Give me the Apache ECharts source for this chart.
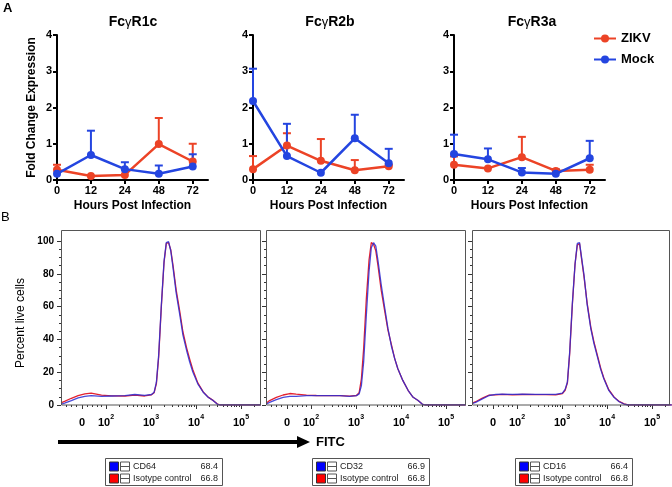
<!DOCTYPE html>
<html><head><meta charset="utf-8">
<script src="https://cdn.jsdelivr.net/npm/echarts@6/dist/echarts.min.js"></script>
<style>html,body{margin:0;padding:0;background:#fff}#c{width:672px;height:487px}</style>
</head><body><div id="c"></div>
<script>
// ---------- Panel A data ----------
const hours = ['0', '12', '24', '48', '72'];
const receptorTitles = ['Fc{g|γ}R1c', 'Fc{g|γ}R2b', 'Fc{g|γ}R3a'];
const zikvR1c      = [0.28, 0.11, 0.14, 0.99, 0.51];
const zikvR1cUpper = [0.42, 0.11, 0.14, 1.71, 1.00];
const mockR1c      = [0.17, 0.69, 0.30, 0.17, 0.37];
const mockR1cUpper = [0.17, 1.36, 0.49, 0.40, 0.71];
const zikvR2b      = [0.30, 0.95, 0.53, 0.27, 0.38];
const zikvR2bUpper = [0.66, 1.29, 1.13, 0.55, 0.42];
const mockR2b      = [2.18, 0.66, 0.20, 1.15, 0.46];
const mockR2bUpper = [3.07, 1.55, 0.20, 1.80, 0.86];
const zikvR3a      = [0.42, 0.32, 0.63, 0.25, 0.28];
const zikvR3aUpper = [0.65, 0.32, 1.19, 0.30, 0.42];
const mockR3a      = [0.72, 0.57, 0.21, 0.17, 0.60];
const mockR3aUpper = [1.25, 0.87, 0.33, 0.28, 1.08];

// ---------- Panel B data (FITC, display units: 3 = 10^3, 4 = 10^4 ...) ----------
const fcsT = [1.01,1.08,1.23,1.38,1.53,1.67,1.90,2.12,2.42,2.64,2.86,3.01,3.07,3.12,3.17,3.23,3.29,3.34,3.39,3.44,3.49,3.56,3.64,3.71,3.79,3.86,3.93,4.04,4.16,4.27,4.38,4.47,4.53,5.44];
const cd64    = [0.6,1.2,2.7,4.3,5.3,5.7,5.3,5.5,5.7,6.4,5.9,6.4,7.8,13.9,30.3,61,87.7,99,99.6,93.9,83.6,68.2,54.9,42.6,33.4,26.2,20.1,12.9,7.8,4.7,2.7,0.6,0,0];
const iso64   = [1.5,2.2,4.1,5.7,6.8,7.2,6.0,5.6,5.5,6.0,5.5,6.2,7.5,13,29,60,87,98.5,99,94.5,85,70,57,44.5,35,28,21.5,13.5,8,4.8,2.8,0.7,0,0];
const cd32    = [0.6,1.6,3.3,4.7,5.3,5.3,5.7,5.7,5.7,5.7,5.3,5.7,6.8,11.9,26.2,54.9,81.6,95.9,99,96.9,87.7,73.4,59,46.7,35.5,28.3,22.1,15,8.8,4.7,2.7,0.6,0,0];
const iso32   = [1.2,2.7,4.7,6.1,7.0,6.6,6.0,5.8,5.7,5.7,5.4,5.8,7.5,16,34.4,65,88.5,99,98,94,84.6,70,57,45.7,36.5,28.3,22.1,15,8.8,4.7,2.7,0.6,0,0];
const cd16    = [1,1.6,3.7,5.8,6.5,6.6,6.5,6.6,6.5,6.5,6.5,7.2,9.5,14,32,62,86,98.5,99,89,79,61,46.6,37.5,29,21.7,16,8.9,4.5,2,0.6,0,0,0];
const iso16   = [1.2,2,4.2,6,6.2,6.5,6.2,6.4,6.3,6.3,6.2,7,9,13.5,31,61,86,97.5,98.5,88,78,62,47.5,38.5,30,22.5,16.5,9.3,4.8,2.2,0.7,0,0,0];
const fcsTickPos = [1.467, 2, 3, 4, 5];
const fcsTickExp = [null, 2, 3, 4, 5];
const markerNames  = ['CD64', 'CD32', 'CD16'];
const markerValues = ['68.4', '66.9', '66.4'];
const isotypeName  = 'Isotype control';
const isotypeValues = ['66.8', '66.8', '66.8'];

// ---------- layout / style ----------
const RED = '#ec4326', BLUE = '#2445e0';
const HRED = '#e3222f', HBLUE = '#2a2ad2';
const FONT = '"Liberation Sans", Arial, sans-serif';
const aLeft = [57, 253, 454], aTop = 35, aW = 151, aH = 145;
const bLeft = [61, 266, 472], bW = [200, 200, 198], bTop = 241, bH = 164, boxTop = 230;
const bMax = bW.map(w => 1 + w / 45);

const zikv = [zikvR1c, zikvR2b, zikvR3a], zikvU = [zikvR1cUpper, zikvR2bUpper, zikvR3aUpper];
const mock = [mockR1c, mockR2b, mockR3a], mockU = [mockR1cUpper, mockR2bUpper, mockR3aUpper];
const marker = [cd64, cd32, cd16], iso = [iso64, iso32, iso16];

const minorPos = [];
[1.12,1.23,1.34,1.58,1.69,1.80,1.90].forEach(v => minorPos.push(v));
for (let n = 2; n <= 5; n++) for (let k = 2; k <= 9; k++) { const v = n + Math.log10(k); if (v < 5.4) minorPos.push(v); }

function errRender(color) {
  return function (params, api) {
    const x = api.value(0), m = api.value(1), u = api.value(2);
    if (u <= m + 0.005) return null;
    const p1 = api.coord([x, m]), p2 = api.coord([x, u]);
    return { type: 'group', children: [
      { type: 'line', shape: { x1: p1[0], y1: p1[1], x2: p2[0], y2: p2[1] }, style: { stroke: color, lineWidth: 2 } },
      { type: 'line', shape: { x1: p2[0] - 4, y1: p2[1], x2: p2[0] + 4, y2: p2[1] }, style: { stroke: color, lineWidth: 2 } }
    ]};
  };
}

const grid = [], xAxis = [], yAxis = [], series = [];
for (let i = 0; i < 3; i++) {
  grid.push({ left: aLeft[i], top: aTop, width: aW, height: aH });
  xAxis.push({
    gridIndex: i, type: 'value', min: 0, max: 4.45,
    axisLine: { show: true, onZero: false, lineStyle: { color: '#000', width: 2 } },
    axisTick: { show: true, customValues: [0, 1, 2, 3, 4], length: 4, lineStyle: { color: '#000', width: 2 } },
    axisLabel: { customValues: [0, 1, 2, 3, 4], formatter: v => hours[Math.round(v)], fontWeight: 'bold', fontSize: 11, color: '#000', fontFamily: FONT, margin: 5 },
    splitLine: { show: false },
    name: 'Hours Post Infection', nameLocation: 'middle', nameGap: 20,
    nameTextStyle: { fontWeight: 'bold', fontSize: 12, color: '#000', fontFamily: FONT }
  });
  yAxis.push({
    gridIndex: i, type: 'value', min: 0, max: 4, interval: 1,
    axisLine: { show: true, lineStyle: { color: '#000', width: 2 } },
    axisTick: { show: true, length: 4, lineStyle: { color: '#000', width: 2 } },
    axisLabel: { fontWeight: 'bold', fontSize: 11, color: '#000', fontFamily: FONT, margin: 5 },
    splitLine: { show: false },
    name: i === 0 ? 'Fold Change Expression' : '', nameLocation: 'middle', nameGap: 19,
    nameTextStyle: { fontWeight: 'bold', fontSize: 12, color: '#000', fontFamily: FONT }
  });
  series.push({ type: 'custom', xAxisIndex: i, yAxisIndex: i, silent: true, z: 2,
    data: zikv[i].map((v, k) => [k, v, zikvU[i][k]]), renderItem: errRender(RED) });
  series.push({ type: 'custom', xAxisIndex: i, yAxisIndex: i, silent: true, z: 2,
    data: mock[i].map((v, k) => [k, v, mockU[i][k]]), renderItem: errRender(BLUE) });
  series.push({ type: 'line', name: 'ZIKV', xAxisIndex: i, yAxisIndex: i, z: 3,
    data: zikv[i].map((v, k) => [k, v]), symbol: 'circle', symbolSize: 8,
    lineStyle: { width: 2.5, color: RED }, itemStyle: { color: RED } });
  series.push({ type: 'line', name: 'Mock', xAxisIndex: i, yAxisIndex: i, z: 4,
    data: mock[i].map((v, k) => [k, v]), symbol: 'circle', symbolSize: 8,
    lineStyle: { width: 2.5, color: BLUE }, itemStyle: { color: BLUE } });
}
for (let b = 0; b < 3; b++) {
  const gi = 3 + b;
  grid.push({ left: bLeft[b], top: bTop, width: bW[b], height: bH });
  const xl = {
    gridIndex: gi, type: 'value', min: 1, max: bMax[b], position: 'bottom',
    axisLine: { show: false },
    axisTick: { show: true, customValues: fcsTickPos, length: 4, lineStyle: { color: '#333', width: 1 } },
    axisLabel: {
      customValues: fcsTickPos, margin: 9,
      formatter: v => {
        let idx = 0, best = 1e9;
        fcsTickPos.forEach((p, j) => { if (Math.abs(p - v) < best) { best = Math.abs(p - v); idx = j; } });
        const e = fcsTickExp[idx];
        return e === null ? '{b|0}' : '{b|10}{s|' + e + '}';
      },
      rich: {
        b: { fontSize: 11, fontWeight: 'bold', color: '#000', fontFamily: FONT, lineHeight: 14, verticalAlign: 'bottom' },
        s: { fontSize: 7, fontWeight: 'bold', color: '#000', fontFamily: FONT, lineHeight: 14, verticalAlign: 'top' }
      }
    },
    splitLine: { show: false }
  };
  xAxis.push(xl);
  yAxis.push({
    gridIndex: gi, type: 'value', min: 0, max: 100, interval: 20,
    axisLine: { show: false },
    axisTick: { show: true, length: 4, lineStyle: { color: '#333' } },
    minorTick: { show: true, splitNumber: 4, length: 2, lineStyle: { color: '#333' } },
    axisLabel: { show: b === 0, fontWeight: 'bold', fontSize: 10, color: '#000', fontFamily: FONT, margin: 7 },
    splitLine: { show: false },
    name: b === 0 ? 'Percent live cells' : '', nameLocation: 'middle', nameGap: 34,
    nameTextStyle: { fontSize: 12, color: '#000', fontFamily: FONT }
  });
}
for (let b = 0; b < 3; b++) {
  xAxis.push({
    gridIndex: 3 + b, type: 'value', min: 1, max: bMax[b], position: 'bottom',
    axisLine: { show: false },
    axisTick: { show: true, customValues: minorPos, length: 2, lineStyle: { color: '#333', width: 1 } },
    axisLabel: { show: false }, splitLine: { show: false }
  });
}
for (let b = 0; b < 3; b++) {
  series.push({ type: 'line', xAxisIndex: 3 + b, yAxisIndex: 3 + b, showSymbol: false, symbol: 'none', silent: true,
    data: fcsT.map((t, k) => [t, iso[b][k]]), lineStyle: { width: 1.3, color: HRED }, z: 2 });
  series.push({ type: 'line', xAxisIndex: 3 + b, yAxisIndex: 3 + b, showSymbol: false, symbol: 'none', silent: true,
    data: fcsT.map((t, k) => [t, marker[b][k]]), lineStyle: { width: 1.3, color: HBLUE, opacity: 0.85 }, z: 3 });
}

const graphic = [];
graphic.push({ type: 'text', left: 3, top: 2, style: { text: 'A', font: 'bold 13px ' + FONT, fill: '#000' } });
graphic.push({ type: 'text', left: 1, top: 211, style: { text: 'B', font: '13px ' + FONT, fill: '#000' } });
const titleX = [133, 330, 532];
receptorTitles.forEach((t, i) => {
  graphic.push({ type: 'text', x: titleX[i], y: 22, style: {
    text: t, align: 'center', verticalAlign: 'middle', fontSize: 14, fontWeight: 'bold', fontFamily: FONT, fill: '#000',
    rich: { g: { fontSize: 13, fontWeight: 'normal', fontFamily: FONT, fill: '#000' } } } });
});
for (let b = 0; b < 3; b++) {
  graphic.push({ type: 'rect', shape: { x: bLeft[b] + 0.5, y: boxTop + 0.5, width: bW[b] - 1, height: bTop + bH - boxTop - 0.5 },
    style: { fill: 'none', stroke: '#555', lineWidth: 1 }, z: 10 });
}
// FITC arrow
graphic.push({ type: 'line', shape: { x1: 58, y1: 442, x2: 300, y2: 442 }, style: { stroke: '#000', lineWidth: 4 } });
graphic.push({ type: 'polygon', shape: { points: [[297, 436], [310, 442], [297, 448]] }, style: { fill: '#000' } });
graphic.push({ type: 'text', x: 316, y: 442, style: { text: 'FITC', font: 'bold 13px ' + FONT, fill: '#000', verticalAlign: 'middle' } });
// histogram legends
const legX = [105, 312, 515];
for (let b = 0; b < 3; b++) {
  const x0 = legX[b], y0 = 458;
  graphic.push({ type: 'rect', shape: { x: x0 + 0.5, y: y0 + 0.5, width: 117, height: 27 }, style: { fill: '#fff', stroke: '#555', lineWidth: 1 } });
  const rows = [[markerNames[b], markerValues[b], '#0000ff'], [isotypeName, isotypeValues[b], '#ff0000']];
  rows.forEach((r, j) => {
    const cy = y0 + 8.5 + j * 12;
    graphic.push({ type: 'rect', shape: { x: x0 + 4.5, y: cy - 4.5, width: 9, height: 9 }, style: { fill: r[2], stroke: '#333', lineWidth: 1 } });
    graphic.push({ type: 'rect', shape: { x: x0 + 15.5, y: cy - 4.5, width: 9, height: 9 }, style: { fill: '#fff', stroke: '#555', lineWidth: 1 } });
    graphic.push({ type: 'line', shape: { x1: x0 + 15.5, y1: cy, x2: x0 + 24.5, y2: cy }, style: { stroke: '#555', lineWidth: 1 } });
    graphic.push({ type: 'text', x: x0 + 28, y: cy + 0.5, style: { text: r[0], font: '9px ' + FONT, fill: '#222', verticalAlign: 'middle' } });
    graphic.push({ type: 'text', x: x0 + 113, y: cy + 0.5, style: { text: r[1], font: '9px ' + FONT, fill: '#222', verticalAlign: 'middle', align: 'right' } });
  });
}

const chart = echarts.init(document.getElementById('c'));
chart.setOption({
  animation: false,
  textStyle: { fontFamily: FONT },
  legend: { data: ['ZIKV', 'Mock'], left: 588, top: 27, orient: 'vertical', itemWidth: 22, itemHeight: 10, itemGap: 8,
    textStyle: { fontWeight: 'bold', fontSize: 13, color: '#000', fontFamily: FONT } },
  grid, xAxis, yAxis, series, graphic
});
</script></body></html>
